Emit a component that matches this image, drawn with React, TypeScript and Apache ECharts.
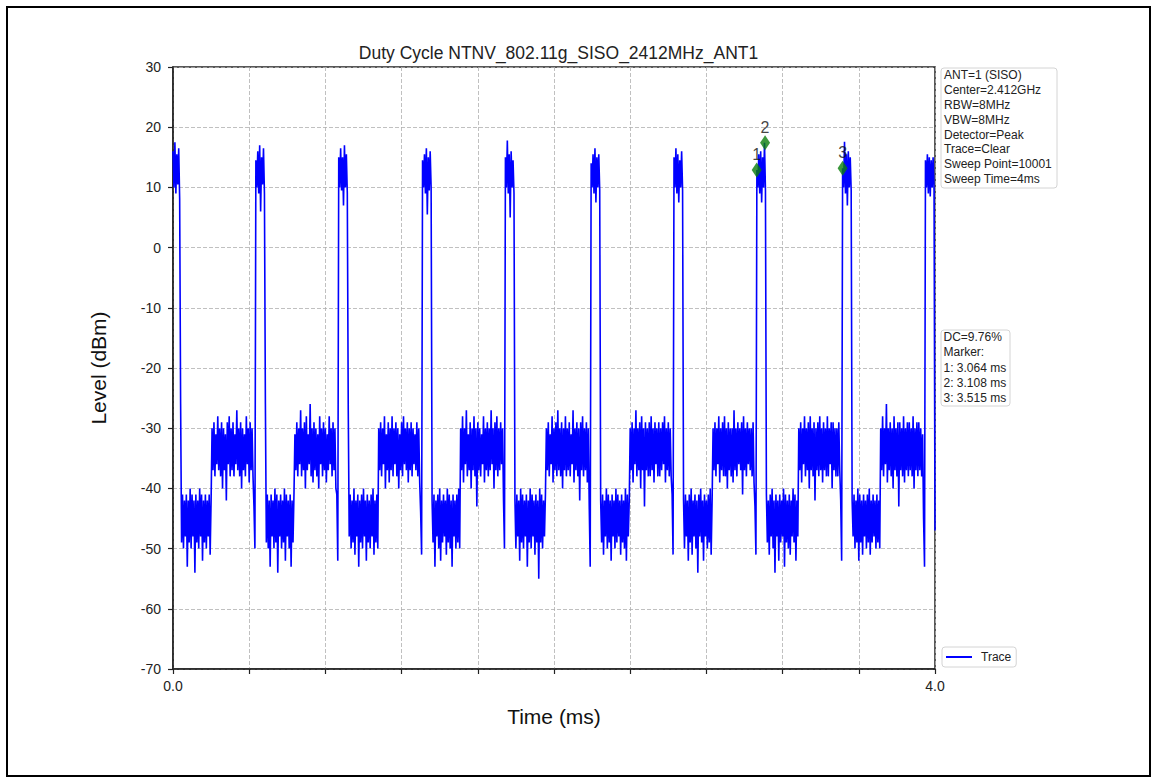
import React, { useEffect, useRef } from "react";
import * as echarts from "echarts";

const FONT = "'Liberation Sans', Arial, Helvetica, sans-serif";

const TITLE = "Duty Cycle NTNV_802.11g_SISO_2412MHz_ANT1";
const X_NAME = "Time (ms)";
const Y_NAME = "Level (dBm)";
const X_MIN = 0;
const X_MAX = 4;
const X_STEP = 0.4;
const Y_MIN = -70;
const Y_MAX = 30;
const Y_STEP = 10;
const X_TICK_LABELS = ["0.0", "4.0"];

const SERIES_NAME = "Trace";
const SAMPLE_MS = 0.005;

// start time (ms) of every segment of the sweep
const burstStartMs = [0.0, 0.435, 0.87, 1.31, 1.745, 2.195, 2.63, 3.065, 3.515, 3.95];
const lowStartMs = [0.04, 0.485, 0.92, 1.36, 1.795, 2.245, 2.68, 3.115, 3.565];
const highStartMs = [0.205, 0.64, 1.08, 1.51, 1.96, 2.4, 2.835, 3.285, 3.715];
const dipStartMs = [0.425, 0.86, 1.3, 1.735, 2.185, 2.62, 3.055, 3.505, 3.94];

// burst levels (dBm)
const burst0 = [16, 10, 17.5, 9, 15.5, 10.5, 16.5, 8];
const burst1 = [14.5, 10, 16, 9, 17, 6, 15, 10.5, 16.5, 9];
const burst2 = [15, 10, 16.5, 9.5, 15, 7, 17, 10, 15.5, 9];
const burst3 = [14.5, 10, 15.5, 9, 16.5, 5.5, 15, 9.5, 16, 10];
const burst4 = [15, 10, 17.8, 9, 15.5, 5, 16, 10, 14.5, 9];
const burst5 = [14, 10, 15.5, 9, 16.5, 7.5, 15, 10, 15.5, 9.5];
const burst6 = [15, 10, 16.5, 9, 15.5, 7.5, 14.5, 10, 16, 9.5];
const burst7 = [12.9, 10, 15.5, 9, 16, 7.5, 15, 10, 17.4, 9.5];
const burst8 = [13.2, 10, 17.6, 9, 15.5, 7, 16, 10, 15, 9.5];
const burst9 = [14.5, 10, 15.5, 9, 15, 8.5, 14.5, 10, 15, 9.5];
const traceEndLevel = -47;

// lower noise floor after each burst (dBm)
const low0 = [-26, -49, -41, -50, -42, -48, -41, -53, -42, -49, -40, -50, -41, -48, -42, -54, -41, -49, -42, -50, -40, -48, -41, -52, -42, -49, -41, -50, -42, -48, -41, -51, -42];
const low1 = [-26, -49, -41, -50, -42, -53, -41, -48, -42, -50, -40, -49, -41, -54, -42, -48, -41, -50, -42, -49, -40, -52, -41, -48, -42, -50, -41, -53, -42, -49, -41];
const low2 = [-27, -48, -41, -50, -42, -49, -40, -51, -42, -48, -41, -53, -42, -49, -41, -50, -40, -48, -42, -52, -41, -49, -42, -50, -41, -48, -40, -51, -42, -49, -41, -50];
const low3 = [-42, -49, -41, -53, -42, -48, -41, -50, -40, -52, -42, -49, -41, -48, -42, -51, -40, -49, -41, -50, -42, -53, -41, -48, -42, -50, -41, -49, -40, -50];
const low4 = [-42, -50, -41, -48, -42, -52, -40, -49, -41, -50, -42, -48, -41, -53, -42, -49, -40, -50, -41, -48, -42, -51, -41, -49, -42, -55, -40, -49, -41, -50, -42, -48, -41];
const low5 = [-42, -49, -41, -51, -42, -48, -40, -50, -41, -49, -42, -52, -41, -48, -42, -50, -40, -49, -41, -48, -42, -51, -41, -49, -42, -50, -40, -52, -41, -48, -42];
const low6 = [-42, -50, -41, -48, -42, -52, -41, -49, -40, -51, -42, -48, -41, -50, -42, -54, -41, -48, -40, -49, -42, -52, -41, -48, -42, -50, -41, -49, -40, -51, -42];
const low7 = [-41, -49, -42, -51, -41, -48, -40, -50, -42, -54, -41, -48, -42, -52, -41, -49, -42, -48, -40, -53, -41, -49, -42, -50, -41, -51, -42, -48, -40, -49, -41, -52, -42, -48];
const low8 = [-42, -48, -41, -50, -42, -49, -40, -52, -41, -49, -42, -51, -41, -48, -42, -50, -41, -49, -40, -51, -42, -49, -41, -48, -42, -50, -41, -49, -42, -50];

// upper noise floor before the next burst (dBm)
const high0 = [-30, -37, -29, -38, -31, -36, -28, -37, -30, -38, -29, -40, -30, -37, -31, -42, -29, -36, -28, -38, -30, -37, -29, -38, -31, -36, -27, -37, -30, -38, -29, -40, -30, -37, -31, -38, -28, -36, -30, -39, -29, -37, -30, -38];
const high1 = [-31, -37, -29, -38, -30, -36, -27, -38, -30, -37, -29, -40, -28, -37, -31, -36, -26, -38, -30, -39, -29, -37, -30, -38, -31, -40, -28, -36, -30, -38, -29, -37, -30, -39, -31, -37, -28, -36, -30, -38, -29, -37, -30, -40];
const high2 = [-30, -37, -29, -38, -30, -36, -28, -40, -31, -37, -29, -39, -30, -37, -28, -38, -30, -36, -29, -38, -30, -40, -31, -37, -29, -38, -28, -36, -30, -37, -29, -39, -30, -37, -29, -38, -30, -36, -31, -37, -29, -38, -30, -39];
const high3 = [-30, -37, -28, -39, -30, -36, -27, -38, -31, -37, -29, -40, -30, -37, -28, -38, -30, -43, -29, -37, -30, -38, -31, -36, -28, -39, -30, -37, -29, -38, -30, -37, -27, -36, -30, -40, -29, -37, -28, -38, -30, -37, -29, -36, -30];
const high4 = [-30, -37, -29, -38, -31, -36, -28, -39, -30, -37, -29, -38, -27, -37, -30, -38, -29, -40, -30, -37, -28, -38, -30, -37, -29, -38, -31, -36, -27, -39, -30, -37, -29, -38, -30, -42, -29, -37, -28, -38, -30, -37, -29, -39, -30];
const high5 = [-30, -37, -29, -39, -30, -36, -27, -38, -30, -37, -29, -40, -28, -37, -30, -43, -29, -37, -30, -38, -29, -38, -28, -37, -30, -39, -29, -36, -30, -38, -29, -38, -30, -37, -29, -36, -28, -39, -30, -37, -29, -38, -30, -38];
const high6 = [-30, -37, -29, -38, -30, -36, -28, -39, -30, -37, -29, -38, -28, -38, -30, -40, -29, -37, -30, -38, -30, -39, -27, -37, -30, -38, -29, -36, -30, -37, -29, -41, -28, -37, -30, -38, -29, -36, -30, -37, -30, -38, -29, -39];
const high7 = [-30, -37, -29, -39, -30, -36, -28, -38, -30, -37, -29, -40, -28, -37, -30, -38, -29, -42, -30, -37, -29, -38, -28, -37, -30, -39, -29, -37, -30, -38, -28, -38, -30, -36, -29, -40, -29, -37, -30, -38, -30, -38, -29, -37];
const high8 = [-30, -37, -28, -38, -30, -36, -26, -39, -30, -37, -29, -38, -30, -40, -28, -37, -30, -38, -29, -43, -29, -37, -30, -38, -28, -39, -30, -37, -29, -38, -29, -37, -30, -38, -28, -40, -30, -37, -29, -38, -29, -37, -30, -38, -31];

// short dip right before each burst (dBm)
const dip0 = [-43, -50];
const dip1 = [-41, -52];
const dip2 = [-44, -51];
const dip3 = [-42, -50];
const dip4 = [-43, -53];
const dip5 = [-41, -51];
const dip6 = [-43, -51];
const dip7 = [-42, -52];
const dip8 = [-45, -53];

const bursts = [burst0, burst1, burst2, burst3, burst4, burst5, burst6, burst7, burst8, burst9];
const lows = [low0, low1, low2, low3, low4, low5, low6, low7, low8];
const highs = [high0, high1, high2, high3, high4, high5, high6, high7, high8];
const dips = [dip0, dip1, dip2, dip3, dip4, dip5, dip6, dip7, dip8];

// markers
const markerNames = ["1", "2", "3"];
const markerTimesMs = [3.064, 3.108, 3.515];
const markerLevels = [12.9, 17.4, 13.2];

const infoLines = [
  "ANT=1 (SISO)",
  "Center=2.412GHz",
  "RBW=8MHz",
  "VBW=8MHz",
  "Detector=Peak",
  "Trace=Clear",
  "Sweep Point=10001",
  "Sweep Time=4ms",
];
const dcLines = ["DC=9.76%", "Marker:", "1: 3.064 ms", "2: 3.108 ms", "3: 3.515 ms"];

function buildTrace(): [number, number][] {
  const pts: [number, number][] = [];
  const push = (start: number, vals: number[]) => {
    vals.forEach((v, j) => pts.push([Number((start + j * SAMPLE_MS).toFixed(4)), v]));
  };
  for (let k = 0; k < bursts.length; k++) {
    push(burstStartMs[k], bursts[k]);
    if (k < lows.length) {
      push(lowStartMs[k], lows[k]);
      push(highStartMs[k], highs[k]);
      push(dipStartMs[k], dips[k]);
    }
  }
  pts.push([X_MAX, traceEndLevel]);
  return pts;
}

export default function App() {
  const ref = useRef<HTMLDivElement>(null);

  useEffect(() => {
    if (!ref.current) return;
    const chart = echarts.init(ref.current, undefined, { renderer: "svg" });
    const trace = buildTrace();
    const markers = markerTimesMs.map((t, i) => [t, markerLevels[i]]);

    chart.setOption({
      animation: false,
      backgroundColor: "#ffffff",
      title: {
        text: TITLE,
        left: 553.5,
        textAlign: "center",
        top: 39,
        textStyle: { fontFamily: FONT, fontSize: 17.5, fontWeight: "normal", color: "#222" },
      },
      legend: {
        data: [SERIES_NAME],
        left: 942,
        top: 647,
        icon: "rect",
        itemWidth: 26,
        itemHeight: 2,
        padding: [4, 5, 4, 4],
        borderColor: "#d4d4d4",
        borderWidth: 1,
        borderRadius: 3,
        backgroundColor: "#ffffff",
        textStyle: { fontFamily: FONT, fontSize: 12, color: "#222", padding: [0, 0, 0, 4] },
      },
      grid: {
        left: 173,
        top: 67,
        width: 762,
        height: 602,
        show: true,
        borderColor: "#222",
        borderWidth: 1.5,
        backgroundColor: "transparent",
      },
      xAxis: {
        type: "value",
        min: X_MIN,
        max: X_MAX,
        interval: X_STEP,
        name: X_NAME,
        nameLocation: "middle",
        nameGap: 37,
        nameTextStyle: { fontFamily: FONT, fontSize: 21, color: "#111" },
        axisLine: { show: true, onZero: false, lineStyle: { color: "#222", width: 1.5 } },
        axisTick: { show: true, inside: false, length: 5, lineStyle: { color: "#222", width: 1.2 } },
        axisLabel: {
          fontFamily: FONT,
          fontSize: 14,
          color: "#222",
          margin: 10,
          formatter: (v: number) =>
            Math.abs(v - X_MIN) < 1e-9 ? X_TICK_LABELS[0] : Math.abs(v - X_MAX) < 1e-9 ? X_TICK_LABELS[1] : "",
        },
        splitLine: { show: true, lineStyle: { color: "#b0b0b0", width: 0.8, type: [4, 2] } },
      },
      yAxis: {
        type: "value",
        min: Y_MIN,
        max: Y_MAX,
        interval: Y_STEP,
        name: Y_NAME,
        nameLocation: "middle",
        nameGap: 64,
        nameTextStyle: { fontFamily: FONT, fontSize: 21, color: "#111" },
        axisLine: { show: true, onZero: false, lineStyle: { color: "#222", width: 1.5 } },
        axisTick: { show: true, inside: false, length: 5, lineStyle: { color: "#222", width: 1.2 } },
        axisLabel: { fontFamily: FONT, fontSize: 14, color: "#222", margin: 12 },
        splitLine: { show: true, lineStyle: { color: "#b0b0b0", width: 0.8, type: [4, 2] } },
      },
      series: [
        {
          name: SERIES_NAME,
          type: "line",
          data: trace,
          showSymbol: false,
          symbol: "none",
          lineStyle: { color: "#0000ff", width: 1.6, join: "miter", miterLimit: 4 },
          itemStyle: { color: "#0000ff" },
          z: 2,
        },
        {
          name: "Markers",
          type: "scatter",
          data: markers,
          symbol: "diamond",
          symbolSize: [10, 15],
          itemStyle: { color: "#0a7d0a" },
          label: {
            show: true,
            position: "top",
            distance: 0,
            formatter: (p: any) => markerNames[p.dataIndex],
            fontFamily: FONT,
            fontSize: 16,
            color: "#111",
          },
          z: 3,
        },
      ],
      graphic: [
        {
          type: "rect",
          shape: { x: 7, y: 7, width: 1143, height: 769 },
          style: { fill: "none", stroke: "#000", lineWidth: 2 },
          silent: true,
        },
        {
          type: "rect",
          shape: { x: 941, y: 68, width: 116, height: 120, r: 3 },
          style: { fill: "#fff", stroke: "#d4d4d4", lineWidth: 1 },
          silent: true,
        },
        {
          type: "text",
          x: 944,
          y: 68,
          style: {
            text: infoLines.join("\n"),
            fontFamily: FONT,
            fontSize: 12,
            lineHeight: 14.8,
            fill: "#222",
            align: "left",
            verticalAlign: "top",
          },
          silent: true,
        },
        {
          type: "rect",
          shape: { x: 941, y: 330, width: 69, height: 76, r: 3 },
          style: { fill: "#fff", stroke: "#d4d4d4", lineWidth: 1 },
          silent: true,
        },
        {
          type: "text",
          x: 943.5,
          y: 329.5,
          style: {
            text: dcLines.join("\n"),
            fontFamily: FONT,
            fontSize: 12,
            lineHeight: 15.2,
            fill: "#222",
            align: "left",
            verticalAlign: "top",
          },
          silent: true,
        },
      ],
    });

    return () => chart.dispose();
  }, []);

  return (
    <div
      ref={ref}
      style={{ position: "fixed", left: 0, top: 0, width: 1157, height: 783, background: "#fff" }}
    />
  );
}
